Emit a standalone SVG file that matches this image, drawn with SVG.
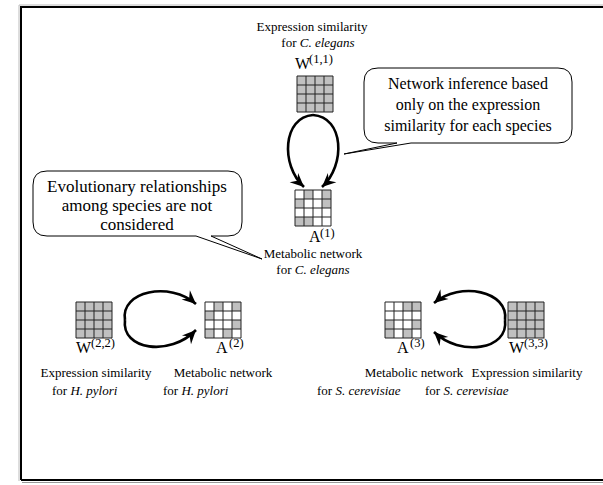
<svg xmlns="http://www.w3.org/2000/svg" xmlns:xlink="http://www.w3.org/1999/xlink" width="603" height="485" viewBox="0 0 603 485" font-family="'Liberation Serif', 'DejaVu Serif', 'Times New Roman', serif">
<style>
text{font-family:'Liberation Serif','DejaVu Serif','Times New Roman',serif;fill:#000}
.lbl{font-size:13px}
.big{font-size:16px}
.sup{font-size:12.5px}
.co{font-size:16px;text-anchor:middle}
.co2{font-size:17px;text-anchor:middle}
.mid{text-anchor:middle}
.it{font-style:italic}
.gl{fill:none;stroke:#222;stroke-width:1}
.g{fill:#c0c0c0}
.w{fill:#fff}
.arc{fill:none;stroke:#000;stroke-width:2.6;marker-end:url(#ah)}
.call{fill:#fff;stroke:#000;stroke-width:1}
</style>
<defs>
<marker id="ah" markerUnits="userSpaceOnUse" markerWidth="16" markerHeight="14" viewBox="-13 -6 14 12" refX="0" refY="0" orient="auto">
<path d="M0,0 L-12,-5.5 L-8,0 L-12,5.5 Z" fill="#000"/>
</marker>
<path id="lines" class="gl" d="M0,0H36M0,9H36M0,18H36M0,27H36M0,36H36M0,0V36M9,0V36M18,0V36M27,0V36M36,0V36"/>
<g id="wgrid"><rect class="g" x="0" y="0" width="36" height="36"/><use xlink:href="#lines"/></g>
</defs>
<rect x="0" y="0" width="603" height="485" fill="#fff"/>
<!-- frame -->
<path d="M19,481 V5 H603" fill="none" stroke="#bbb" stroke-width="1"/>
<path d="M21,480 V7 H603" fill="none" stroke="#000" stroke-width="2"/>
<path d="M21,480 H603" fill="none" stroke="#000" stroke-width="2"/>
<path d="M22,482.5 H603" fill="none" stroke="#999" stroke-width="1"/>

<g id="connectors">
<path class="arc" d="M313,115 C283,117 280,165 304,187"/>
<path class="arc" d="M313,115 C344,117 346,165 322,187"/>
<path class="arc" d="M125,320 C120,291 170,281 196,304"/>
<path class="arc" d="M125,320 C121,350 170,357 196,330"/>
<path class="arc" d="M505,320 C509,291 460,281 434,303"/>
<path class="arc" d="M505,320 C509,350 460,357 434,332"/>
</g>

<g id="callout-network">
<path class="call" d="M378,68 H558 Q572,68 572,82 V129 Q572,143 558,143 H411 L344,154 L397,143 H378 Q364,143 364,129 V82 Q364,68 378,68 Z"/>
<text class="co" x="468" y="89">Network inference based</text>
<text class="co" x="468" y="110">only on the expression</text>
<text class="co" x="468" y="131">similarity for each species</text>
</g>

<g id="callout-evolution">
<path class="call" d="M47,171 H228 Q242,171 242,185 V222 Q242,236 228,236 H211 L262,259 L196,236 H47 Q33,236 33,222 V185 Q33,171 47,171 Z"/>
<text class="co2" x="137" y="192">Evolutionary relationships</text>
<text class="co2" x="137" y="211">among species are not</text>
<text class="co2" x="137" y="230">considered</text>
</g>

<g id="W11">
<text class="lbl mid" x="312" y="31">Expression similarity</text>
<text class="lbl mid" x="318" y="47">for <tspan class="it">C. elegans</tspan></text>
<text class="big" x="295" y="69">W</text><text class="sup" x="309" y="63">(1,1)</text>
<use xlink:href="#wgrid" x="297" y="76"/>
</g>

<g id="A1">
<rect class="w" x="295" y="190" width="36" height="36"/>
<g class="g" transform="translate(295,190)">
<rect x="9" y="0" width="9" height="9"/><rect x="27" y="0" width="9" height="9"/>
<rect x="0" y="9" width="9" height="9"/><rect x="27" y="9" width="9" height="9"/>
<rect x="0" y="27" width="9" height="9"/><rect x="9" y="27" width="9" height="9"/>
</g>
<use xlink:href="#lines" x="295" y="190"/>
<text class="big" x="309" y="242">A</text><text class="sup" x="320" y="237">(1)</text>
<text class="lbl mid" x="313" y="258">Metabolic network</text>
<text class="lbl mid" x="313" y="274">for <tspan class="it">C. elegans</tspan></text>
</g>

<g id="W22">
<use xlink:href="#wgrid" x="76" y="302"/>
<text class="big" x="76" y="353">W</text><text class="sup" x="91" y="347">(2,2)</text>
<text class="lbl mid" x="96" y="377">Expression similarity</text>
<text class="lbl" x="52" y="395">for <tspan class="it">H. pylori</tspan></text>
</g>

<g id="A2">
<rect class="w" x="205" y="302" width="36" height="36"/>
<g class="g" transform="translate(205,302)">
<rect x="9" y="0" width="9" height="9"/><rect x="27" y="0" width="9" height="9"/>
<rect x="0" y="9" width="9" height="9"/>
<rect x="27" y="18" width="9" height="9"/>
<rect x="0" y="27" width="9" height="9"/><rect x="18" y="27" width="9" height="9"/>
</g>
<use xlink:href="#lines" x="205" y="302"/>
<text class="big" x="216" y="353">A</text><text class="sup" x="229" y="347">(2)</text>
<text class="lbl mid" x="223" y="377">Metabolic network</text>
<text class="lbl" x="163" y="395">for <tspan class="it">H. pylori</tspan></text>
</g>

<g id="A3">
<rect class="w" x="385" y="302" width="36" height="36"/>
<g class="g" transform="translate(385,302)">
<rect x="18" y="0" width="9" height="9"/><rect x="27" y="0" width="9" height="9"/>
<rect x="0" y="18" width="9" height="9"/><rect x="27" y="18" width="9" height="9"/>
<rect x="0" y="27" width="9" height="9"/><rect x="18" y="27" width="9" height="9"/>
</g>
<use xlink:href="#lines" x="385" y="302"/>
<text class="big" x="397" y="353">A</text><text class="sup" x="410" y="347">(3)</text>
<text class="lbl mid" x="414" y="377">Metabolic network</text>
<text class="lbl" x="317" y="395">for <tspan class="it">S. cerevisiae</tspan></text>
</g>

<g id="W33">
<use xlink:href="#wgrid" x="508" y="302"/>
<text class="big" x="509" y="353">W</text><text class="sup" x="524" y="347">(3,3)</text>
<text class="lbl mid" x="527" y="377">Expression similarity</text>
<text class="lbl" x="425" y="395">for <tspan class="it">S. cerevisiae</tspan></text>
</g>
</svg>
